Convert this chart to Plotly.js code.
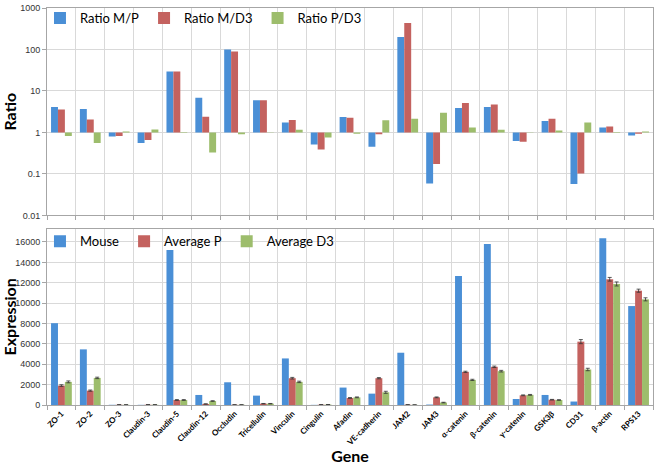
<!DOCTYPE html>
<html><head><meta charset="utf-8">
<script src="https://cdn.plot.ly/plotly-3.0.1.min.js"></script>
<style>html,body{margin:0;padding:0;background:#fff}#chart{width:656px;height:465px}</style>
</head><body><div id="chart"></div>
<script>
const genes = ['ZO-1','ZO-2','ZO-3','Claudin-3','Claudin-5','Claudin-12','Occludin','Tricellulin','Vinculin','Cingulin','Afadin','VE-cadherin','JAM2','JAM3','α-catenin','β-catenin','γ-catenin','GSK3β','CD31','β-actin','RPS13'];

const ratioMP  = [4.1,3.7,0.80,0.56,29.4,6.9,100,6.0,1.73,0.51,2.36,0.45,200,0.059,3.87,4.1,0.62,1.9,0.057,1.31,0.85];
const ratioMD3 = [3.6,2.04,0.82,0.66,29.4,2.4,89,6.0,2.0,0.39,2.25,0.9,432,0.173,5.1,4.7,0.6,2.15,0.102,1.39,0.93];
const ratioPD3 = [0.82,0.56,1.06,1.18,1.03,0.33,0.91,0.98,1.16,0.76,0.93,1.96,2.15,3.0,1.31,1.16,0.98,1.12,1.73,1.02,1.06];

const mouse = [8030,5460,20,17,15210,985,2230,920,4570,15,1710,1115,5130,44,12670,15800,590,985,340,16360,9710];
const avgP  = [1906,1410,25,30,490,100,22,130,2630,30,690,2630,26,750,3255,3750,950,520,6220,12340,11220];
const avgD3 = [2270,2660,20,25,490,390,20,130,2270,40,750,1245,12,240,2465,3320,995,490,3485,11880,10370];
const errP  = [80,60,5,5,40,15,5,20,80,5,40,60,5,40,60,70,40,30,200,180,150];
const errD3 = [90,70,5,5,40,30,5,20,70,5,40,100,5,30,60,80,40,30,120,200,150];

const ratioTicks = [0.01,0.1,1,10,100,1000];
const exprTicks = [0,2000,4000,6000,8000,10000,12000,14000,16000];

const BLUE='#4a8fd6', RED='#c4625f', GREEN='#9dbd6c';

function ratioTrace(name, vals, color){
  return {type:'bar', name, x:genes, y:vals.map(v=>v-1), base:1,
    marker:{color, line:{width:0}}, xaxis:'x', yaxis:'y', legend:'legend'};
}
function exprTrace(name, vals, color, err){
  const t = {type:'bar', name, x:genes, y:vals, marker:{color, line:{width:0}},
    xaxis:'x2', yaxis:'y2', legend:'legend2'};
  if(err) t.error_y = {type:'data', array:err, visible:true, color:'#333', thickness:0.8, width:2};
  return t;
}

const data = [
  ratioTrace('Ratio M/P', ratioMP, BLUE),
  ratioTrace('Ratio M/D3', ratioMD3, RED),
  ratioTrace('Ratio P/D3', ratioPD3, GREEN),
  exprTrace('Mouse', mouse, BLUE),
  exprTrace('Average P', avgP, RED, errP),
  exprTrace('Average D3', avgD3, GREEN, errD3)
];

const gridC = '#d9d9d9', lineC = '#a6a6a6';
const tickF = {family:'Liberation Sans, Arial, sans-serif', size:9, color:'#333'};
const titleF = {family:'Lato, sans-serif', size:16, color:'#000', weight:'bold'};
const legF = {family:'Lato, sans-serif', size:13, color:'#000'};

const xCommon = {type:'category', tickson:'boundaries', showgrid:true, gridcolor:gridC,
  showline:true, linecolor:lineC, mirror:true, ticks:'outside', ticklen:4, tickcolor:lineC};

const layout = {
  width:656, height:465, margin:{l:47, r:3, t:5, b:60},
  paper_bgcolor:'#fff', plot_bgcolor:'#fff',
  barmode:'group', bargap:0.28, bargroupgap:0,
  showlegend:true,
  xaxis: Object.assign({}, xCommon, {anchor:'y', domain:[0,1], showticklabels:false}),
  yaxis: {type:'log', domain:[0.4775,1], range:[-2,3], anchor:'x',
    tickvals:ratioTicks, ticktext:ratioTicks.map(String), tickfont:tickF,
    showgrid:true, gridcolor:gridC, showline:true, linecolor:lineC, mirror:true,
    ticks:'outside', ticklen:4, tickcolor:lineC, zeroline:false,
    title:{text:'Ratio', font:titleF, standoff:5}},
  xaxis2: Object.assign({}, xCommon, {anchor:'y2', domain:[0,1], tickangle:-45,
    tickfont:{family:'Lato, sans-serif', size:8, color:'#000', weight:'bold'},
    title:{text:'Gene', font:titleF, standoff:4}}),
  yaxis2: {domain:[0,0.444], range:[0,17300], anchor:'x2',
    tickvals:exprTicks, ticktext:exprTicks.map(String), tickfont:tickF,
    showgrid:true, gridcolor:gridC, showline:true, linecolor:lineC, mirror:true,
    ticks:'outside', ticklen:4, tickcolor:lineC, zeroline:false,
    title:{text:'Expression', font:titleF, standoff:8}},
  legend: {orientation:'h', x:-0.0116, y:1.0125, xanchor:'left', yanchor:'top',
    bgcolor:'rgba(0,0,0,0)', font:legF, itemwidth:30, tracegroupgap:0},
  legend2: {orientation:'h', x:-0.0116, y:0.45, xanchor:'left', yanchor:'top',
    bgcolor:'rgba(0,0,0,0)', font:legF, itemwidth:30, tracegroupgap:0}
};

Plotly.newPlot('chart', data, layout, {displayModeBar:false, staticPlot:true});
</script></body></html>
